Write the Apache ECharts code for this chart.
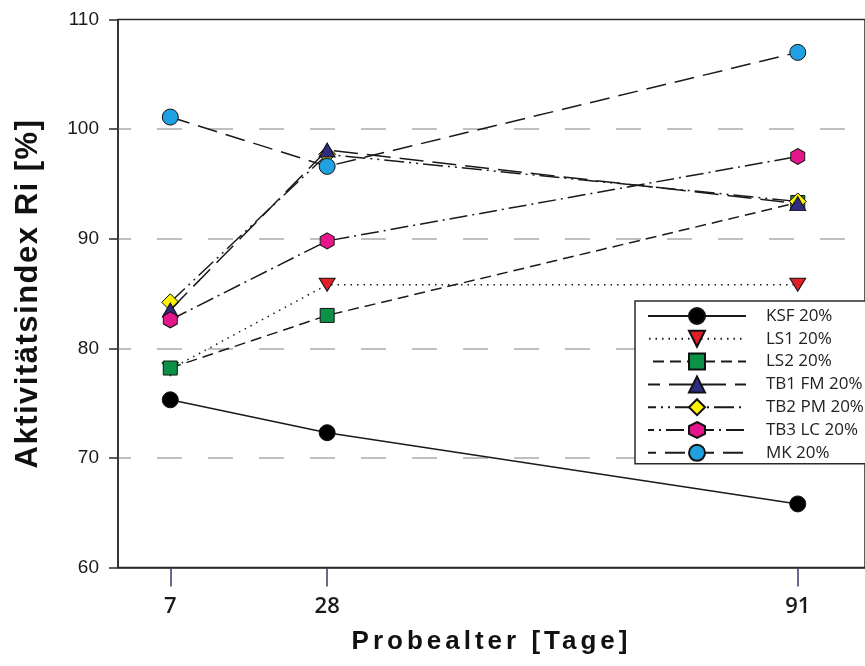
<!DOCTYPE html>
<html>
<head>
<meta charset="utf-8">
<script src="https://cdn.jsdelivr.net/npm/echarts@6/dist/echarts.min.js"></script>
<style>
html,body{margin:0;padding:0;background:#fff;}
#chart{width:865px;height:666px;}
</style>
</head>
<body>
<div id="chart"></div>
<script>
// ---- data ----
const ages = [7, 28, 91];
const seriesNames = ['KSF 20%', 'LS1 20%', 'LS2 20%', 'TB1 FM 20%', 'TB2 PM 20%', 'TB3 LC 20%', 'MK 20%'];
const ksf  = [75.3, 72.3, 65.8];
const ls1  = [78.1, 85.8, 85.8];
const ls2  = [78.2, 83.0, 93.3];
const tb1  = [83.5, 98.1, 93.2];
const tb2  = [84.2, 97.7, 93.4];
const tb3  = [82.6, 89.8, 97.5];
const mk   = [101.1, 96.6, 107.0];
const xTicks = [7, 28, 91];
const yTickValues = [60, 70, 80, 90, 100, 110];

// letter spacing for the axis titles (canvas style only, isolated with save/restore)
(function(){
  const spacing = {'Probealter [Tage]': '4px', 'Aktivitätsindex Ri [%]': '1.5px'};
  const proto = CanvasRenderingContext2D.prototype;
  const orig = proto.fillText;
  proto.fillText = function(t, x, y, w){
    const s = spacing[t];
    if (s && ('letterSpacing' in this)) {
      this.save();
      const f = this.font;
      this.letterSpacing = s;
      this.font = f;
      const r = (w === undefined) ? orig.call(this, t, x, y) : orig.call(this, t, x, y, w);
      this.restore();
      return r;
    }
    return (w === undefined) ? orig.call(this, t, x, y) : orig.call(this, t, x, y, w);
  };
})();

const hexPath = 'path://M0,-1 L0.866,-0.5 L0.866,0.5 L0,1 L-0.866,0.5 L-0.866,-0.5 Z';

// z order: TB1 triangles sit above TB2 diamonds in the reference
const styles = [
  {data: ksf, symbol: 'circle', size: 16, color: '#000000', dash: 'solid', z: 2},
  {data: ls1, symbol: 'triangle', size: [16, 13], rotate: 180, color: '#e41e26', dash: [1.5, 5], z: 3},
  {data: ls2, symbol: 'rect', size: 14, color: '#0b9247', dash: [11, 6], z: 4},
  {data: tb1, symbol: 'triangle', size: [16, 14], color: '#2e2c7e', dash: [24, 9], z: 6},
  {data: tb2, symbol: 'diamond', size: 17, color: '#fff200', dash: [20, 5, 2, 5, 2, 5], z: 5},
  {data: tb3, symbol: hexPath, size: [14, 16], color: '#e5168b', dash: [18, 5, 2, 5], z: 7},
  {data: mk,  symbol: 'circle', size: 16, color: '#1ea0e1', dash: [20, 9], z: 8}
];

const series = styles.map((s, i) => ({
  name: seriesNames[i],
  type: 'line',
  data: ages.map((a, j) => [a, s.data[j]]),
  symbol: s.symbol,
  symbolSize: s.size,
  symbolRotate: s.rotate || 0,
  showAllSymbol: true,
  lineStyle: {color: '#1a1a1a', width: 1.5, type: s.dash},
  itemStyle: {color: s.color, borderColor: '#111', borderWidth: 1},
  emphasis: {disabled: true},
  z: s.z
}));

const chart = echarts.init(document.getElementById('chart'), null, {renderer: 'canvas'});
chart.setOption({
  animation: false,
  backgroundColor: '#ffffff',
  grid: {left: 118, right: -12, top: 19.5, bottom: 98.5, show: true, borderColor: '#2a2a2a', borderWidth: 1.5, backgroundColor: 'transparent'},
  xAxis: {
    type: 'value', min: 0, max: 100,
    name: 'Probealter [Tage]', nameLocation: 'middle', nameGap: 61,
    nameTextStyle: {fontFamily: 'Liberation Sans', fontWeight: 'bold', fontSize: 26, color: '#111'},
    axisLine: {show: true, onZero: false, lineStyle: {color: '#2a2a2a', width: 1.5}},
    axisTick: {show: true, customValues: xTicks, length: 19, lineStyle: {color: '#3c3468', width: 1.5}},
    axisLabel: {customValues: xTicks, margin: 28, fontFamily: 'Open Sans', fontWeight: 600, fontSize: 22, color: '#1a1a1a'},
    splitLine: {show: false}
  },
  yAxis: {
    type: 'value', min: 60, max: 110, interval: 10,
    name: 'Aktivitätsindex Ri [%]', nameLocation: 'middle', nameGap: 74, nameRotate: 90,
    nameTextStyle: {fontFamily: 'Liberation Sans', fontWeight: 'bold', fontSize: 31, color: '#111'},
    axisLine: {show: true, lineStyle: {color: '#2a2a2a', width: 1.5}},
    axisTick: {show: true, length: 9, lineStyle: {color: '#2a2a2a', width: 1.5}},
    axisLabel: {margin: 19, fontFamily: 'Liberation Sans', fontSize: 19, color: '#1a1a1a'},
    splitLine: {show: true, showMinLine: false, showMaxLine: false, lineStyle: {color: '#ababab', width: 1.5, type: [25, 26], dashOffset: 12}}
  },
  legend: {
    orient: 'vertical', left: 635, top: 301,
    padding: [6, 24, 2, 12], itemGap: 4.8, itemWidth: 98, itemHeight: 20,
    backgroundColor: '#ffffff', borderColor: '#2a2a2a', borderWidth: 1.5, borderRadius: 0,
    textStyle: {fontFamily: 'Open Sans', fontSize: 17, color: '#222', padding: [0, 0, 0, 15]},
    data: seriesNames,
    selectedMode: false
  },
  series: series
});
</script>
</body>
</html>
